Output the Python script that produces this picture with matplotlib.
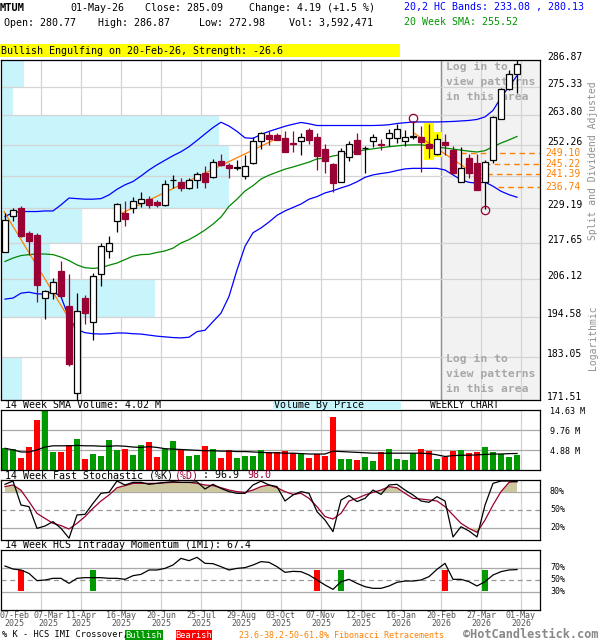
import numpy as np
import matplotlib
matplotlib.use('Agg')
import matplotlib.pyplot as plt
import matplotlib.transforms as mtransforms
from matplotlib.patches import Rectangle
from matplotlib.ticker import NullLocator

# ---------------- data ----------------
ticker = 'MTUM'
last_date = '01-May-26'
pattern_text = 'Bullish Engulfing on 20-Feb-26, Strength: -26.6'

opens = [214.7, 226.4, 229.2, 220.8, 220.1, 200.1, 201.6, 208.5, 197.6, 173.3,
         200.1, 193.1, 207.5, 214.8, 224.8, 227.5, 229.2, 231.2, 232.4, 231.5,
         230.2, 239.1, 238.7, 236.3, 239.3, 241.9, 240.3, 246.2, 244.8, 243.7,
         240.7, 245.6, 253.7, 256.0, 256.0, 255.0, 253.1, 253.6, 258.0, 255.5,
         250.8, 245.0, 238.7, 247.7, 254.2, 251.1, 253.6, 252.7, 255.0, 255.0,
         253.6, 255.5, 255.5, 252.7, 249.0, 253.3, 250.5, 238.7, 247.2, 245.3,
         238.5, 246.5, 262.4, 274.4, 280.77]
highs = [227.7, 229.3, 230.0, 221.4, 220.9, 202.6, 206.2, 211.7, 207.5, 201.6,
         201.1, 207.8, 217.6, 219.8, 231.1, 231.6, 233.2, 234.9, 233.4, 232.2,
         239.3, 241.1, 239.8, 240.0, 242.3, 244.4, 246.8, 248.9, 245.6, 246.5,
         248.5, 255.5, 257.3, 257.7, 256.7, 257.6, 257.7, 256.7, 259.0, 256.7,
         252.7, 245.3, 251.0, 253.8, 256.7, 251.7, 256.4, 254.4, 258.6, 260.3,
         258.0, 261.65, 259.5, 260.2, 256.3, 256.4, 252.0, 251.4, 249.0, 248.7,
         246.5, 263.7, 275.0, 282.6, 286.87]
lows = [214.5, 225.0, 219.5, 213.6, 198.8, 193.8, 199.9, 200.5, 180.5, 171.51,
        192.5, 187.7, 203.9, 212.5, 221.0, 223.2, 227.7, 229.8, 229.2, 229.6,
        230.0, 236.4, 235.3, 235.9, 236.5, 236.4, 240.0, 244.4, 239.9, 242.9,
        239.5, 245.1, 250.8, 252.4, 254.0, 249.5, 249.6, 248.6, 252.7, 242.9,
        241.7, 235.1, 238.4, 246.2, 248.7, 241.7, 251.4, 250.5, 251.7, 253.1,
        252.0, 254.5, 242.3, 247.2, 248.4, 248.4, 241.6, 238.6, 239.9, 235.5,
        229.05, 245.3, 262.2, 274.1, 272.98]
closes = [225.3, 228.6, 219.9, 218.3, 204.2, 202.2, 205.0, 200.8, 181.2, 196.2,
          195.6, 206.9, 216.5, 217.4, 230.7, 225.6, 231.6, 232.6, 230.3, 230.2,
          237.8, 239.4, 236.2, 239.3, 241.4, 238.7, 245.8, 244.8, 243.8, 243.9,
          244.4, 253.6, 256.7, 254.4, 254.3, 249.6, 252.7, 255.5, 254.2, 248.1,
          246.2, 238.1, 249.9, 252.6, 249.0, 251.3, 255.5, 252.3, 257.0, 258.4,
          255.5, 255.7, 253.3, 251.2, 254.6, 252.4, 241.7, 243.5, 241.7, 235.7,
          245.9, 263.3, 274.4, 280.9, 285.09]
volumes_m = [5.44, 5.12, 3.0, 5.6, 12.2, 14.634, 4.39, 4.39, 6.0, 7.64,
             2.76, 3.9, 3.49, 7.4, 4.88, 5.2, 3.66, 6.0, 6.9, 3.17,
             5.04, 7.15, 5.04, 3.49, 3.74, 5.85, 5.04, 3.0, 4.8, 3.0,
             3.41, 3.41, 4.88, 4.3, 4.3, 4.63, 4.07, 3.9, 3.0, 3.82,
             3.49, 12.9, 2.68, 2.68, 2.44, 3.17, 2.19, 4.39, 5.12, 2.68,
             2.44, 4.07, 5.12, 4.63, 2.68, 3.25, 4.63, 4.88, 4.15, 4.39,
             5.6, 4.39, 3.82, 3.17, 3.592471]
vol_sma_m = [5.3, 4.9, 4.4, 4.4, 4.9, 5.6, 5.9, 5.9, 5.9, 6.0,
             5.9, 5.9, 5.8, 5.8, 5.9, 5.8, 5.6, 5.5, 5.7, 5.5,
             5.2, 5.1, 5.0, 4.9, 4.8, 4.7, 4.7, 4.6, 4.6, 4.5,
             4.5, 4.4, 4.3, 4.2, 4.2, 4.1, 4.1, 4.0, 3.9, 3.9,
             3.9, 4.6, 4.5, 4.4, 4.3, 4.2, 4.1, 4.1, 4.1, 4.1,
             4.1, 4.1, 4.1, 4.0, 3.7, 3.3, 3.5, 3.6, 3.6, 3.7,
             3.8, 3.9, 3.9, 4.0, 4.02]
bb_upper = [226.4, 227.7, 228.1, 228.1, 228.1, 228.3, 228.3, 230.4, 232.8, 232.6,
            232.4, 232.4, 232.6, 233.9, 235.9, 237.5, 238.7, 240.7, 242.9, 244.8,
            246.5, 248.2, 249.7, 251.6, 254.0, 256.5, 259.0, 261.1, 259.6, 257.5,
            255.0, 254.8, 256.3, 257.5, 258.5, 259.5, 260.3, 261.0, 260.5, 259.8,
            259.8, 259.8, 259.8, 259.8, 259.8, 259.8, 259.8, 259.9, 260.1, 260.6,
            260.9, 261.2, 261.2, 261.2, 261.2, 261.3, 261.4, 261.6, 261.8, 262.2,
            263.2, 265.8, 271.0, 275.6, 280.13]
bb_lower = [199.8, 200.1, 201.6, 201.9, 201.4, 201.3, 202.1, 200.5, 194.2, 190.8,
            189.9, 189.6, 189.5, 189.6, 189.8, 189.8, 189.6, 189.5, 189.2, 188.9,
            188.7, 188.5, 188.4, 188.6, 190.2, 190.6, 193.1, 195.6, 200.6, 208.8,
            216.4, 220.9, 222.5, 224.5, 226.8, 228.3, 229.5, 230.7, 232.4, 233.3,
            234.6, 235.4, 236.4, 237.3, 238.6, 240.2, 241.1, 241.6, 242.0, 242.7,
            243.3, 243.5, 243.5, 243.5, 243.5, 242.9, 241.1, 239.3, 238.4, 238.1,
            238.5, 237.0, 235.2, 234.0, 233.08]
sma20 = [211.5, 212.6, 213.4, 213.7, 213.9, 213.9, 213.7, 212.9, 211.8, 210.4,
         209.5, 209.3, 209.5, 210.3, 211.0, 212.1, 213.2, 213.7, 213.8, 214.4,
         214.9, 215.8, 217.5, 218.6, 220.1, 221.8, 223.8, 226.2, 229.9, 232.4,
         235.3, 237.2, 239.6, 241.0, 242.1, 243.2, 244.0, 244.9, 245.8, 247.0,
         247.3, 248.1, 248.6, 249.3, 249.8, 250.4, 250.8, 251.2, 251.6, 251.9,
         252.2, 252.3, 252.3, 252.0, 251.5, 251.1, 250.7, 250.3, 249.9, 249.6,
         250.1, 251.6, 253.0, 254.2, 255.52]
stoch_k = [92.8, 98.3, 58.3, 55.6, 19.4, 23.3, 30.6, 19.4, 3.0, 41.7,
           42.8, 61.1, 77.8, 79.4, 98.3, 91.7, 96.1, 96.1, 92.8, 94.4,
           96.0, 97.2, 96.0, 96.0, 97.0, 85.0, 92.8, 86.0, 80.6, 77.8,
           77.8, 91.7, 98.0, 91.7, 89.0, 65.0, 75.0, 80.6, 77.8, 47.2,
           33.3, 13.9, 66.7, 74.0, 64.0, 69.4, 83.3, 76.0, 91.7, 92.8,
           83.3, 75.0, 65.0, 62.8, 72.2, 65.0, 5.0, 22.2, 15.0, 5.0,
           58.0, 94.4, 98.3, 98.3, 96.9]
stoch_d = [89.0, 91.7, 83.0, 64.0, 44.4, 36.0, 27.8, 24.0, 18.3, 27.8,
           39.0, 52.8, 65.0, 75.0, 87.2, 90.6, 94.4, 94.4, 94.4, 94.4,
           95.5, 96.0, 96.0, 96.0, 94.4, 91.7, 90.6, 87.2, 83.3, 80.6,
           79.4, 83.3, 89.0, 91.7, 87.2, 80.6, 76.1, 77.8, 69.4, 55.6,
           39.0, 35.0, 44.4, 65.0, 69.4, 75.0, 79.4, 83.3, 89.0, 87.0,
           77.8, 69.4, 68.3, 66.7, 65.0, 55.6, 41.7, 27.8, 19.4, 12.8,
           33.3, 58.3, 80.6, 96.0, 98.0]
imi = [73.3, 68.3, 66.7, 61.0, 48.9, 50.0, 52.8, 52.8, 44.4, 52.8,
       53.9, 53.9, 53.9, 52.8, 52.8, 51.1, 57.2, 59.4, 66.7, 66.7,
       69.4, 75.0, 86.1, 82.2, 87.8, 77.8, 77.2, 72.2, 66.7, 69.4,
       70.6, 75.0, 80.6, 79.4, 72.2, 62.8, 64.4, 63.9, 58.3, 50.0,
       41.7, 34.4, 47.2, 51.1, 44.4, 38.9, 36.1, 36.1, 40.0, 46.1,
       48.3, 48.3, 50.0, 55.6, 67.8, 77.8, 51.1, 51.1, 47.2, 40.0,
       47.2, 58.3, 63.9, 66.7, 67.4]
imi_bull_weeks = [11, 42, 60]
imi_bear_weeks = [2, 39, 55]

# volume by price, bottom price bin to top bin (millions of shares, estimated)
vbp_m = [8.5, 0.0, 63.3, 20.1, 33.3, 93.6, 93.6, 89.5, 4.8, 9.3]

trend_weeks = [(-0.12, 9.04), (13.75, 33.96), (51.04, 60.0)]
trend_prices = [(228.1, 190.0), (226.4, 254.7), (257.0, 238.9)]
fib_levels = [249.10, 245.22, 241.39, 236.74]
fib_start_weeks = [55.8, 57.5, 59.0, 61.6]
engulf_weeks = [53, 54]
swing_high_week = 51
swing_low_week = 60
locked_from_week = 54.5

date_tick_weeks = [0, 4, 9, 14, 19, 24, 29, 34, 39, 44, 49, 54, 59, 64]
date_tick_days = ['07-Feb', '07-Mar', '11-Apr', '16-May', '20-Jun', '25-Jul', '29-Aug',
                  '03-Oct', '07-Nov', '12-Dec', '16-Jan', '20-Feb', '27-Mar', '01-May']
date_tick_years = ['2025'] * 10 + ['2026'] * 4

# ---------------- style ----------------
MONO = 'DejaVu Sans Mono'
plt.rcParams['font.family'] = MONO
CANDLE_RED = '#990033'
VOL_RED = '#ff0000'
VOL_GREEN = '#009900'
BLUE = '#0000ff'
SMA_GREEN = '#008800'
ORANGE = '#ff8000'
GRID = '#d4d4d4'
LEVEL = '#a8a8a8'
CYAN = '#c8f4fb'
KHAKI = '#cdc8a0'

W, H = 600, 640
fig = plt.figure(figsize=(6, 6.4), dpi=100)
fig.patch.set_facecolor('white')


def ax_at(x0, y0, x1, y1):
    return fig.add_axes([x0 / W, 1 - y1 / H, (x1 - x0) / W, (y1 - y0) / H])


def ftext(px, py, s, **kw):
    kw.setdefault('va', 'center')
    kw.setdefault('fontsize', 7.2)
    return fig.text(px / W, 1 - py / H, s, **kw)


x = np.arange(len(closes))
O, Hh, L, C = map(np.array, (opens, highs, lows, closes))
up = C >= O
XMIN, XMAX = -0.5, 66.875
grid_x = np.array(date_tick_weeks[1:]) + 0.5


def style(a):
    a.set_xlim(XMIN, XMAX)
    a.set_xticks([])
    a.set_yticks([])
    a.yaxis.set_minor_locator(NullLocator())
    a.tick_params(which='both', length=0, labelleft=False, labelbottom=False)
    for s in a.spines.values():
        s.set_color('black')
        s.set_linewidth(0.9)
    for g in grid_x:
        a.axvline(g, color=GRID, lw=0.9, zorder=0.2)


# ---------------- price panel ----------------
ax = ax_at(1, 60, 540, 400)
ax.set_yscale('log')
lo, hi = L.min(), Hh.max()
ax.set_ylim(lo, hi)
style(ax)
ax.yaxis.set_minor_locator(NullLocator())
ax.set_yticks([])

ticks = np.linspace(lo, hi, 11)
ax.axvspan(locked_from_week, XMAX, color='#f2f2f2', zorder=0.1, lw=0)
ax.axvline(locked_from_week, color='#909090', lw=1.0, zorder=0.3)

vbp = np.array(vbp_m)
trans_vbp = mtransforms.blended_transform_factory(ax.transAxes, ax.transData)
for k in range(len(vbp)):
    ax.add_patch(Rectangle((0, ticks[k]), vbp[k] / vbp.max() * 0.4225,
                           ticks[k + 1] - ticks[k], transform=trans_vbp,
                           color=CYAN, lw=0, zorder=0.5))
for t in ticks:
    ax.axhline(t, color=GRID, lw=0.9, zorder=0.6)

# engulfing highlight
for w in engulf_weeks:
    ax.add_patch(Rectangle((w - 0.65, L[w] * 0.997), 1.25, Hh[w] * 1.003 - L[w] * 0.997,
                           color='#ffff00', lw=0, zorder=1.0))

ax.plot(x, bb_upper, color=BLUE, lw=0.9, zorder=2)
ax.plot(x, bb_lower, color=BLUE, lw=0.9, zorder=2)
ax.plot(x, sma20, color=SMA_GREEN, lw=0.9, zorder=2)
for tw, tp in zip(trend_weeks, trend_prices):
    ax.plot(tw, tp, color=ORANGE, lw=0.9, zorder=2.5)
for lvl, st in zip(fib_levels, fib_start_weeks):
    ax.hlines(lvl, st, XMAX, colors=ORANGE, linestyles=(0, (4, 3)), lw=1.0, zorder=2.4)

# candles
wick_c = ['black' if u else CANDLE_RED for u in up]
ax.vlines(x, L, Hh, colors=wick_c, lw=0.9, zorder=3)
body_lo = np.minimum(O, C)
body_hi = np.maximum(O, C)
ax.bar(x, body_hi - body_lo, bottom=body_lo, width=0.66,
       color=['white' if u else CANDLE_RED for u in up],
       edgecolor=wick_c, lw=0.9, zorder=4)

# swing circles
ax.plot([swing_high_week], [Hh[swing_high_week]], 'o', mfc='none', mec=CANDLE_RED, ms=6, mew=0.9,
        zorder=5, transform=mtransforms.offset_copy(ax.transData, fig=fig, x=0, y=3, units='dots'))
ax.plot([swing_low_week], [L[swing_low_week]], 'o', mfc='none', mec=CANDLE_RED, ms=6, mew=0.9,
        zorder=5, transform=mtransforms.offset_copy(ax.transData, fig=fig, x=0, y=-1, units='dots'))

# log-in text (behind candles)
for ys in ((67, 82, 97), (359, 374, 389)):
    for yy, s in zip(ys, ('Log in to', 'view patterns', 'in this area')):
        ax.text(446 / W, 1 - yy / H, s, transform=fig.transFigure, color='#a8a8a8',
                fontsize=8.2, fontweight='bold', va='center', ha='left', zorder=1.8)

# right labels price
tr_price = mtransforms.blended_transform_factory(fig.transFigure, ax.transData)
tr_price_up = mtransforms.offset_copy(tr_price, fig=fig, x=0, y=3, units='dots')
for t in ticks:
    if min(abs(np.log(t / f)) for f in fib_levels) < 0.008:
        continue
    ax.text(547 / W, t, f'{t:.2f}', transform=tr_price_up, fontsize=7, va='center',
            ha='left', clip_on=False)
for lvl in fib_levels:
    ax.text(545 / W, lvl, f'{lvl:.2f}', transform=tr_price, fontsize=7, va='center',
            ha='left', color=ORANGE, clip_on=False)

# ---------------- volume panel ----------------
axv = ax_at(1, 410, 540, 470)
vol = np.array(volumes_m)
vmax = vol.max()
axv.set_ylim(0, vmax)
style(axv)
for lv in (vmax / 3, 2 * vmax / 3):
    axv.axhline(lv, color=LEVEL, lw=0.9, zorder=0.3)
axv.bar(x, vol, width=0.72, color=[VOL_GREEN if u else VOL_RED for u in up], lw=0, zorder=2)
axv.plot(x, vol_sma_m, color='black', lw=0.9, zorder=3)
for lv in (vmax, 2 * vmax / 3, vmax / 3):
    py = 470 - lv / vmax * 60 + 1
    ftext(550, py, f'{lv:.2f} M', fontsize=6)

# ---------------- stochastic panel ----------------
axs = ax_at(1, 480, 540, 540)
axs.set_ylim(0, 100)
style(axs)
K = np.array(stoch_k)
D = np.array(stoch_d)
axs.axhline(80, color=LEVEL, lw=0.9, zorder=0.3)
axs.axhline(20, color=LEVEL, lw=0.9, zorder=0.3)
axs.axhline(50, color='#999999', lw=0.9, ls=(0, (4, 3)), zorder=0.3)
axs.fill_between(x, 80, D, where=D >= 80, interpolate=True, color=KHAKI, lw=0, zorder=1)
axs.fill_between(x, 20, D, where=D <= 20, interpolate=True, color=KHAKI, lw=0, zorder=1)
axs.plot(x, D, color=CANDLE_RED, lw=0.9, zorder=2)
axs.plot(x, K, color='black', lw=0.9, zorder=3)
for lv in (80, 50, 20):
    ftext(550, 540 - lv * 0.6, f'{lv}%', fontsize=6)

# ---------------- IMI panel ----------------
axi = ax_at(1, 550, 540, 610)
axi.set_ylim(0, 100)
style(axi)
axi.axhline(70, color=LEVEL, lw=0.9, zorder=0.3)
axi.axhline(30, color=LEVEL, lw=0.9, zorder=0.3)
axi.axhline(50, color='#999999', lw=0.9, ls=(0, (4, 3)), zorder=0.3)
axi.bar(imi_bull_weeks, 35, bottom=31.7, width=0.75, color=VOL_GREEN, lw=0, zorder=1)
axi.bar(imi_bear_weeks, 35, bottom=31.7, width=0.75, color=VOL_RED, lw=0, zorder=1)
axi.plot(x, imi, color='black', lw=0.9, zorder=3)
for lv in (70, 50, 30):
    ftext(550, 610 - lv * 0.6, f'{lv}%', fontsize=6)

# date labels
tick_x = np.array(date_tick_weeks, dtype=float) + 0.5
tick_x[0] = 1.2
tick_x[1] = 5.4
tr_dates = mtransforms.blended_transform_factory(axi.transData, fig.transFigure)
for tx, d, yv in zip(tick_x, date_tick_days, date_tick_years):
    axi.text(tx, 1 - 616 / H, d, transform=tr_dates, ha='center', va='center',
             fontsize=6, color='#555555', clip_on=False)
    axi.text(tx, 1 - 624 / H, yv, transform=tr_dates, ha='center', va='center',
             fontsize=6, color='#555555', clip_on=False)

# ---------------- header / labels ----------------
chg = C[-1] - C[-2]
pct = chg / C[-2] * 100
ftext(0, 8, ticker, fontweight='bold', fontsize=7.5)
ftext(70, 8, last_date)
ftext(145, 8, f'Close: {C[-1]:.2f}')
ftext(249, 8, f'Change: {chg:.2f} ({pct:+.1f} %)')
ftext(4.5, 23, f'Open: {O[-1]:.2f}')
ftext(98.5, 23, f'High: {Hh[-1]:.2f}')
ftext(199, 23, f'Low: {L[-1]:.2f}')
ftext(289, 23, f'Vol: {int(round(vol[-1] * 1e6)):,}')
ftext(404, 7, f'20,2 HC Bands: {bb_lower[-1]:.2f} , {bb_upper[-1]:.2f}', color=BLUE)
ftext(404, 22, f'20 Week SMA: {sma20[-1]:.2f}', color='#009900')

fig.patches.append(Rectangle((0, 1 - 57 / H), 400 / W, 13 / H, transform=fig.transFigure,
                             color='#ffff00', lw=0, zorder=0))
ftext(1, 50.5, pattern_text)

ftext(5, 405, f'14 Week SMA Volume: {vol_sma_m[-1]:.2f} M')
fig.patches.append(Rectangle((273 / W, 1 - 409.5 / H), 128 / W, 9 / H, transform=fig.transFigure,
                             color=CYAN, lw=0, zorder=0))
ftext(274, 405, 'Volume By Price')
ftext(430, 405, 'WEEKLY CHART', fontsize=6.9)

ftext(5, 475, '14 Week Fast Stochastic (%K)')
ftext(175, 475, '(%D)', color=CANDLE_RED)
ftext(203, 475, f': {K[-1]:.1f}')
ftext(247, 475, f'{D[-1]:.1f}', color=CANDLE_RED)

ftext(5, 545, f'14 Week HCS Intraday Momentum (IMI): {imi[-1]:.1f}')

# bottom legend
ftext(2, 635, '% K - HCS IMI Crossover,', fontsize=6.2)
fig.patches.append(Rectangle((125 / W, 1 - 640 / H), 38 / W, 10 / H, transform=fig.transFigure,
                             color=VOL_GREEN, lw=0, zorder=0))
ftext(144, 635, 'Bullish', fontsize=6.2, color='white', ha='center')
fig.patches.append(Rectangle((176 / W, 1 - 640 / H), 36 / W, 10 / H, transform=fig.transFigure,
                             color=VOL_RED, lw=0, zorder=0))
ftext(194, 635, 'Bearish', fontsize=6.2, color='white', ha='center')
ftext(239, 635, '23.6-38.2-50-61.8% Fibonacci Retracements', fontsize=6, color=ORANGE)
ftext(463, 634, '\u00a9HotCandlestick.com', fontsize=8.6, color='#888888', fontweight='bold')

# side labels
ftext(593, 161, 'Split and Dividend Adjusted', rotation=90, ha='center', color='#909090', fontsize=7)
ftext(593, 338, 'Logarithmic', rotation=90, ha='center', color='#909090', fontsize=7)

fig.savefig('out.png', dpi=100, facecolor='white')
